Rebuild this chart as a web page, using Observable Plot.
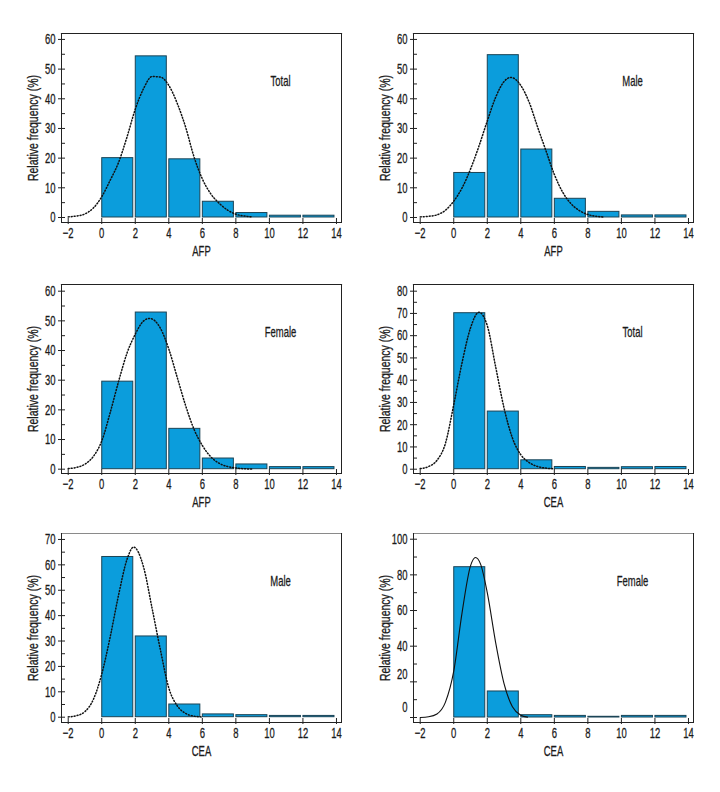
<!DOCTYPE html>
<html><head><meta charset="utf-8">
<script src="https://cdn.jsdelivr.net/npm/d3@7"></script>
<script src="https://cdn.jsdelivr.net/npm/@observablehq/plot@0.6"></script>
<style>
body{margin:0;background:#fff;}
#root{position:relative;width:720px;height:792px;overflow:hidden;}
#root svg{position:absolute;}
#root svg text{stroke:#1a1a1a;stroke-width:0.3px;}
</style></head><body><div id="root"></div>
<script>
// ---- data ----
const binStart = [0, 2, 4, 6, 8, 10, 12];
const binEnd   = [2, 4, 6, 8, 10, 12, 14];
const xTicks = [-2, 0, 2, 4, 6, 8, 10, 12, 14];

const afpTotal  = [20.0, 54.3, 19.6, 5.3, 1.5, 0.6, 0.6];
const afpMale   = [15.0, 54.7, 22.9, 6.3, 1.9, 0.7, 0.7];
const afpFemale = [29.5, 52.8, 13.6, 3.6, 1.6, 0.7, 0.7];
const ceaTotal  = [70.1, 25.9, 4.0, 1.0, 0.6, 0.9, 1.0];
const ceaMale   = [63.1, 31.8, 5.0, 1.1, 0.8, 0.5, 0.5];
const ceaFemale = [84.3, 14.6, 1.3, 0.9, 0.4, 0.9, 0.9];

const afpTotalCurveX = [-2,-1.5,-1,-0.5,0,0.5,1,1.5,2,2.5,3,3.5,4,4.5,5,5.5,6,6.5,7,7.5,8,8.5,9];
const afpTotalCurveY = [0.2,0.5,1.2,3.2,7,12.5,18.5,27,36.5,43.5,47.5,47.3,44.5,38.5,30.5,20.5,13,8,4.8,2.5,1.1,0.5,0.2];
const afpMaleCurveX = [-2,-1.5,-1,-0.5,0,0.5,1,1.5,2,2.5,3,3.4,4,4.5,5,5.5,6,6.5,7,7.5,8,8.5,9];
const afpMaleCurveY = [0.2,0.4,0.9,2.4,5.5,10,16.3,24,32.5,40.5,45.8,47.2,44.5,38.8,30.5,22.5,14.5,8.5,4.6,2.3,1.0,0.4,0.15];
const afpFemaleCurveX = [-2,-1.5,-1,-0.5,0,0.5,1,1.5,2,2.5,2.85,3.5,4,4.5,5,5.5,6,6.5,7,7.5,8,8.5,9];
const afpFemaleCurveY = [0.2,0.6,1.7,4.3,9.5,19,29.5,39,45.5,50,50.8,47.5,40.5,31,21.5,13.5,8,4.2,2,0.9,0.4,0.15,0.05];
const ceaTotalCurveX = [-2,-1.5,-1,-0.5,0,0.5,1,1.5,2,2.5,3,3.5,4,4.5,5,5.5,6];
const ceaTotalCurveY = [0.3,1.2,4,11.5,29,48,63.5,70.5,64.5,46,27.5,14,6.5,3,1.2,0.5,0.2];
const ceaMaleCurveX = [-2,-1.5,-1,-0.5,0,0.5,1,1.5,1.9,2.5,3,3.5,4,4.5,5,5.5,6];
const ceaMaleCurveY = [0.1,0.6,2.2,7,17,31.5,48,62,67,59,43,26.5,11.5,4.5,1.5,0.4,0.1];
const ceaFemaleCurveX = [-2,-1.5,-1,-0.5,0,0.5,1,1.3,1.6,2,2.5,3,3.5,4,4.4];
const ceaFemaleCurveY = [0,0.4,2,8.5,26,59,85,89.7,86,70,42,19,6,1.3,0.2];

const yTicks60 = [0,10,20,30,40,50,60];
const yMinor60 = [5,15,25,35,45,55];
const yTicks70 = [0,10,20,30,40,50,60,70];
const yMinor70 = [5,15,25,35,45,55,65];
const yTicks80 = [0,10,20,30,40,50,60,70,80];
const yMinor80 = [5,15,25,35,45,55,65,75];
const yTicks100 = [0,20,40,60,80,100];
const yMinor100 = [10,30,50,70,90];
const yLabelPos100 = [100,80,60,40,24.4,6];
const yLabelText100 = ["100","80","60","40","20","0"];

const yTitle = "Relative frequency (%)";

// ---- layout / style ----
const FONT = '"Liberation Sans","DejaVu Sans",sans-serif';
const BAR = "#0b9ddc", EDGE = "#1b4456";
const ML = 50, MR = 10, MT = 10, MB = 45, W = 280, H = 189;

const panels = [
  {vals: afpTotal,  cx: afpTotalCurveX,  cy: afpTotalCurveY,  xl: "AFP", name: "Total",  yd: [-1.69, 62.0], yt: yTicks60, ym: yMinor60, dashed: true, left: 60.7, top: 33, topStroke: "#222"},
  {vals: afpMale,   cx: afpMaleCurveX,   cy: afpMaleCurveY,   xl: "AFP", name: "Male",   yd: [-1.69, 62.0], yt: yTicks60, ym: yMinor60, dashed: true, left: 413.3, top: 33, topStroke: "#222"},
  {vals: afpFemale, cx: afpFemaleCurveX, cy: afpFemaleCurveY, xl: "AFP", name: "Female", yd: [-1.45, 62.25], yt: yTicks60, ym: yMinor60, dashed: true, left: 60.7, top: 284, topStroke: "#222"},
  {vals: ceaTotal,  cx: ceaTotalCurveX,  cy: ceaTotalCurveY,  xl: "CEA", name: "Total",  yd: [-1.93, 83.0], yt: yTicks80, ym: yMinor80, dashed: true, left: 413.3, top: 284, topStroke: "#222"},
  {vals: ceaMale,   cx: ceaMaleCurveX,   cy: ceaMaleCurveY,   xl: "CEA", name: "Male",   yd: [-2.09, 72.35], yt: yTicks70, ym: yMinor70, dashed: true, left: 60.7, top: 533.3, topStroke: "#8a8a8a"},
  {vals: ceaFemale, cx: ceaFemaleCurveX, cy: ceaFemaleCurveY, xl: "CEA", name: "Female", yd: [-2.8, 103.2], yt: yTicks100, ym: yMinor100, dashed: false, left: 413.3, top: 533.3, topStroke: "#8a8a8a",
   labelPos: yLabelPos100, labelText: yLabelText100}
];

const fmtX = d => d < 0 ? "\u2212" + (-d) : String(d);
const root = document.getElementById("root");

// condense text to mimic the narrow typeface of the original
function condense(svg) {
  svg.querySelectorAll("text").forEach(t => {
    const spans = t.querySelectorAll("tspan");
    const els = spans.length ? Array.from(spans) : [t];
    const isTitle = t.textContent === yTitle;
    const f = isTitle ? 0.7 : 0.63;
    els.forEach(e => {
      const len = e.getComputedTextLength();
      if (len > 0) {
        e.setAttribute("textLength", (len * f).toFixed(2));
        e.setAttribute("lengthAdjust", "spacingAndGlyphs");
      }
    });
  });
}

for (const p of panels) {
  const bins = binStart.map((s, i) => ({x1: s, x2: binEnd[i], v: p.vals[i]}));
  const curve = p.cx.map((x, i) => ({x, y: p.cy[i]}));
  const labelPos = p.labelPos || p.yt;
  const labelMap = new Map(labelPos.map((v, i) => [v, p.labelText ? p.labelText[i] : String(v)]));
  const chart = Plot.plot({
    width: ML + W + MR, height: MT + H + MB,
    marginLeft: ML, marginRight: MR, marginTop: MT, marginBottom: MB,
    style: {fontFamily: FONT, fontSize: "14px", background: "transparent", color: "#1a1a1a"},
    x: {domain: [-2.4, 14.3]},
    y: {domain: p.yd},
    marks: [
      Plot.rectY(bins, {x1: "x1", x2: "x2", y: "v", fill: BAR, stroke: EDGE, strokeWidth: 1, insetLeft: 0.5, insetRight: 2}),
      Plot.line(curve, {x: "x", y: "y", curve: "monotone-x", stroke: "#111", strokeWidth: p.dashed ? 1.5 : 1.1,
        strokeDasharray: p.dashed ? "1 2" : null}),
      Plot.frame({anchor: "top", stroke: p.topStroke, strokeWidth: 1.2}),
      Plot.frame({anchor: "right", stroke: "#222", strokeWidth: 1}),
      Plot.frame({anchor: "left", stroke: "#222", strokeWidth: 1}),
      Plot.frame({anchor: "bottom", stroke: "#222", strokeWidth: 1}),
      Plot.axisX({ticks: xTicks, tickSize: 0, tickPadding: 5, tickFormat: fmtX, fontSize: 15,
        label: p.xl, labelAnchor: "center", labelOffset: 33, labelArrow: "none"}),
      Plot.axisX({ticks: xTicks, tickSize: 6, insetBottom: 4, text: null, label: null, stroke: "#222"}),
      Plot.axisY({ticks: labelPos, tickSize: 0, tickPadding: 6, tickFormat: d => labelMap.get(d), fontSize: 15,
        label: yTitle, labelAnchor: "center", labelOffset: 34, labelArrow: "none"}),
      Plot.axisY({ticks: p.yt, tickSize: 7, insetLeft: 4, text: null, label: null, stroke: "#222"}),
      Plot.axisY({ticks: p.ym, tickSize: 4, insetLeft: 4, text: null, label: null, stroke: "#222"}),
      Plot.text([p.name], {frameAnchor: "top-right", dx: -61, dy: 48, textAnchor: "middle", lineAnchor: "middle", fontSize: 15, fill: "#1a1a1a"})
    ]
  });
  chart.style.left = (p.left - ML) + "px";
  chart.style.top = (p.top - MT) + "px";
  root.appendChild(chart);
  condense(chart);
}
</script></body></html>
